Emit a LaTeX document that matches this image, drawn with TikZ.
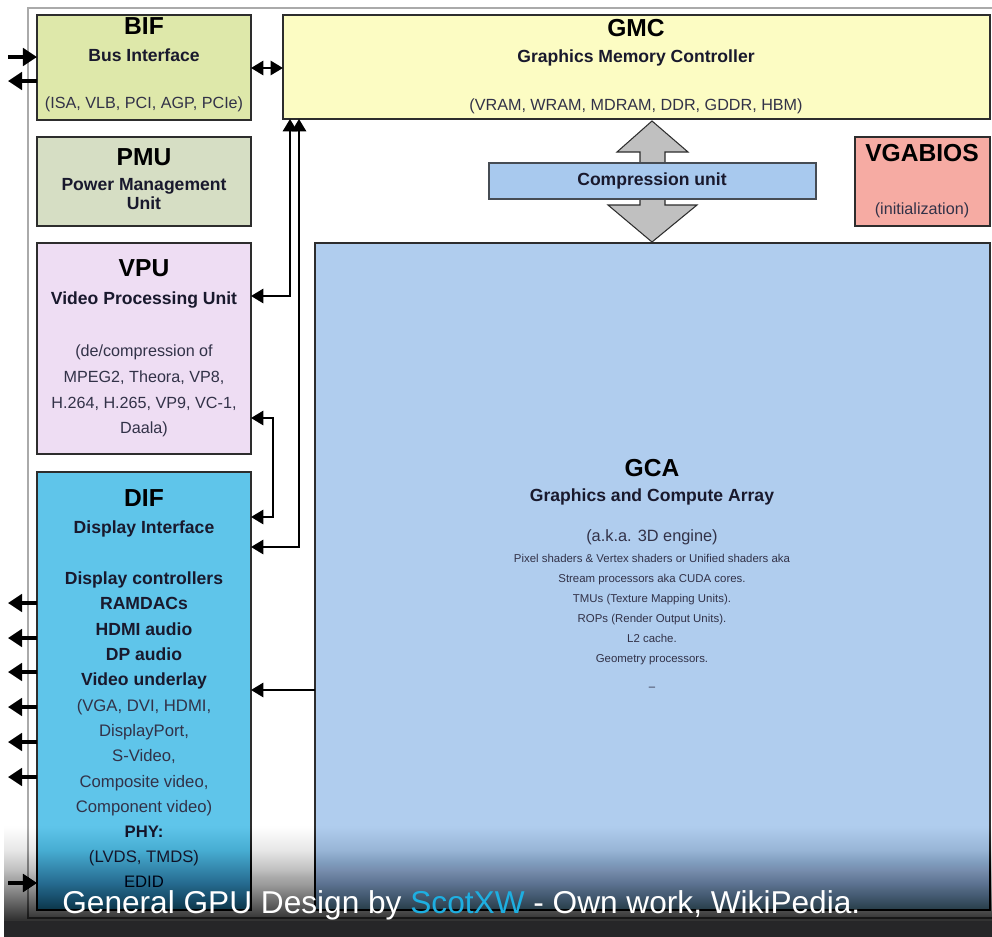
\documentclass[tikz,border=0pt]{standalone}
\usepackage{fontspec}
\setmainfont{Liberation Sans}
\usetikzlibrary{arrows.meta}
\definecolor{bifc}{RGB}{222,232,170}
\definecolor{pmuc}{RGB}{214,222,196}
\definecolor{gmcc}{RGB}{252,252,195}
\definecolor{vpuc}{RGB}{238,221,243}
\definecolor{difc}{RGB}{95,197,234}
\definecolor{gcac}{RGB}{176,205,238}
\definecolor{cuc}{RGB}{168,201,238}
\definecolor{vgac}{RGB}{246,171,163}
\definecolor{edgec}{RGB}{45,45,45}
\definecolor{txtc}{RGB}{50,50,72}
\definecolor{subc}{RGB}{25,25,45}
\definecolor{scot}{RGB}{30,175,225}
\definecolor{framec}{RGB}{170,170,170}
\definecolor{garr}{RGB}{192,192,192}
\definecolor{bandc}{RGB}{38,38,40}
\begin{document}
\begin{tikzpicture}[x=0.02cm,y=-0.02cm,
  box/.style={draw=edgec, line width=0.9pt, inner sep=0pt, outer sep=0pt, anchor=north west},
  ttl/.style={font=\fontsize{14}{16}\selectfont\bfseries, text=black, anchor=mid, inner sep=0pt},
  sub/.style={font=\fontsize{10}{11}\selectfont\bfseries, text=subc, anchor=mid, inner sep=0pt},
  txt/.style={font=\fontsize{9.2}{11}\selectfont, text=txtc, anchor=mid, inner sep=0pt},
  tiny/.style={font=\fontsize{6.5}{7}\selectfont, text=txtc, anchor=mid, inner sep=0pt},
  conn/.style={line width=1.4pt, draw=black, -{Triangle[length=7pt,width=8pt]}},
  connb/.style={line width=1.4pt, draw=black, {Triangle[length=7pt,width=8pt]}-{Triangle[length=7pt,width=8pt]}},
  ext/.style={line width=1.8pt, draw=black, -{Triangle[length=8pt,width=10pt]}},
  garrow/.style={fill=garr, draw=edgec, line width=0.6pt, line join=miter}
]
\useasboundingbox (0,0) rectangle (992,937);
\fill[white] (0,0) rectangle (992,937);
% outer frame
\draw[framec, line width=0.6pt] (28,8) rectangle (998,918);

% boxes
\node[box, fill=bifc, minimum width=4.28cm, minimum height=2.10cm] (BIF) at (37,15) {};
\node[box, fill=pmuc, minimum width=4.28cm, minimum height=1.78cm] (PMU) at (37,137) {};
\node[box, fill=vpuc, minimum width=4.28cm, minimum height=4.22cm] (VPU) at (37,243) {};
\node[box, fill=difc, minimum width=4.28cm, minimum height=8.76cm] (DIF) at (37,472) {};
\node[box, fill=gmcc, minimum width=14.14cm, minimum height=2.08cm] (GMC) at (283,15) {};
\node[box, fill=vgac, minimum width=2.70cm, minimum height=1.78cm] (VGA) at (855,137) {};
\node[box, fill=gcac, minimum width=13.50cm, minimum height=13.34cm] (GCA) at (315,243) {};

% gray double arrow through compression unit
\draw[garrow] (652,121) -- (688,152) -- (665,152) -- (665,164) -- (640,164) -- (640,152) -- (617,152) -- cycle;
\draw[garrow] (640,198) -- (665,198) -- (665,205) -- (697,205) -- (652,242) -- (608,205) -- (640,205) -- cycle;
\node[box, fill=cuc, draw=edgec!80!cuc, minimum width=6.54cm, minimum height=0.72cm] (CU) at (489,163) {};

% texts
\node[ttl] (bift) at (144,30) {BIF};
\node[sub] (bifs) at (144,57) {Bus Interface};
\node[txt] (bifx) at (144,104) {(ISA, VLB, PCI, AGP, PCIe)};

\node[ttl] (pmut) at (144,161) {PMU};
\node[sub] (pmus1) at (144,186) {Power Management};
\node[sub] (pmus2) at (144,205) {Unit};

\node[ttl] (vput) at (144,272) {VPU};
\node[sub] (vpus) at (144,300) {Video Processing Unit};
\node[txt] (vpux1) at (144,352) {(de/compression of};
\node[txt] (vpux2) at (144,378) {MPEG2, Theora, VP8,};
\node[txt] (vpux3) at (144,404) {H.264, H.265, VP9, VC-1,};
\node[txt] (vpux4) at (144,429) {Daala)};

\node[ttl] (dift) at (144,502) {DIF};
\node[sub] (difs) at (144,529) {Display Interface};
\node[sub] (difa) at (144,580) {Display controllers};
\node[sub] (difb) at (144,605) {RAMDACs};
\node[sub] (difc) at (144,631) {HDMI audio};
\node[sub] (difd) at (144,656) {DP audio};
\node[sub] (dife) at (144,681) {Video underlay};
\node[txt, font=\fontsize{9.5}{11}\selectfont] (diff) at (144,707) {(VGA, DVI, HDMI,};
\node[txt, font=\fontsize{9.5}{11}\selectfont] (difg) at (144,732) {DisplayPort,};
\node[txt, font=\fontsize{9.5}{11}\selectfont] (difh) at (144,757) {S-Video,};
\node[txt, font=\fontsize{9.5}{11}\selectfont] (difi) at (144,783) {Composite video,};
\node[txt, font=\fontsize{9.5}{11}\selectfont] (difj) at (144,808) {Component video)};
\node[sub, font=\fontsize{9.5}{11}\selectfont\bfseries] (difk) at (144,833) {PHY:};
\node[txt, font=\fontsize{9.5}{11}\selectfont] (difl) at (144,858) {(LVDS, TMDS)};
\node[txt, font=\fontsize{9.5}{11}\selectfont] (difm) at (144,883) {EDID};

\node[ttl] (gmct) at (636,32) {GMC};
\node[sub] (gmcs) at (636,58) {Graphics Memory Controller};
\node[txt] (gmcx) at (636,106) {(VRAM, WRAM, MDRAM, DDR, GDDR, HBM)};

\node[sub] (cut) at (652,181) {Compression unit};

\node[ttl] (vgat) at (922,157) {VGABIOS};
\node[txt] (vgax) at (922,210) {(initialization)};

\node[ttl] (gcat) at (652,472) {GCA};
\node[sub] (gcas) at (652,497) {Graphics and Compute Array};
\node[txt, font=\fontsize{9.3}{11}\selectfont] (gcax) at (652,537) {(a.k.a. 3D engine)};
\node[tiny] (gca1) at (652,558) {Pixel shaders \& Vertex shaders or Unified shaders aka};
\node[tiny] (gca2) at (652,578) {Stream processors aka CUDA cores.};
\node[tiny] (gca3) at (652,598) {TMUs (Texture Mapping Units).};
\node[tiny] (gca4) at (652,618) {ROPs (Render Output Units).};
\node[tiny] (gca5) at (652,638) {L2 cache.};
\node[tiny] (gca6) at (652,658) {Geometry processors.};
\node[tiny] (gca7) at (652,686) {--};

% connector coordinates
\coordinate (bifin) at (8,57);
\coordinate (bifout) at (8,81);
\coordinate (ybg) at (0,68);
\coordinate (c1) at (290,296);
\coordinate (c2) at (299,547);
\coordinate (c3a) at (273,418);
\coordinate (c3b) at (273,517);
\coordinate (c4) at (0,690);
\coordinate (o1) at (8,603);
\coordinate (o2) at (8,638);
\coordinate (o3) at (8,672);
\coordinate (o4) at (8,707);
\coordinate (o5) at (8,742);
\coordinate (o6) at (8,777);
\coordinate (difin) at (8,883);

% connectors
\draw[ext] (bifin) -- (BIF.west |- bifin);
\draw[ext] (BIF.west |- bifout) -- (bifout);
\draw[connb] (BIF.east |- ybg) -- (GMC.west |- ybg);
\draw[connb] (GMC.south -| c1) -- (c1) -- (VPU.east |- c1);
\draw[connb] (GMC.south -| c2) -- (c2) -- (DIF.east |- c2);
\draw[connb] (VPU.east |- c3a) -- (c3a) -- (c3b) -- (DIF.east |- c3b);
\draw[conn] (GCA.west |- c4) -- (DIF.east |- c4);
\foreach \o in {o1,o2,o3,o4,o5,o6}{
  \draw[ext] (DIF.west |- \o) -- (\o);
}
\draw[ext] (difin) -- (DIF.west |- difin);

% caption overlay: smooth darkening built from stacked layers
\foreach \i in {0,...,99}{
  \pgfmathsetmacro{\aprev}{0.72*(\i/100+0.0001)^1.7}
  \pgfmathsetmacro{\acur}{0.72*((\i+1)/100)^1.7}
  \pgfmathsetmacro{\lay}{1-(1-\acur)/(1-\aprev)}
  \fill[black, opacity=\lay] (4,820+\i) rectangle (992,921);
}
\fill[bandc] (4,921) rectangle (992,937);
\node[anchor=base west, inner sep=0pt, text=white, font=\fontsize{18}{20}\selectfont] (cap) at (62,913)
  {General GPU Design by \textcolor{scot}{ScotXW} - Own work, WikiPedia.};
\end{tikzpicture}
\end{document}
